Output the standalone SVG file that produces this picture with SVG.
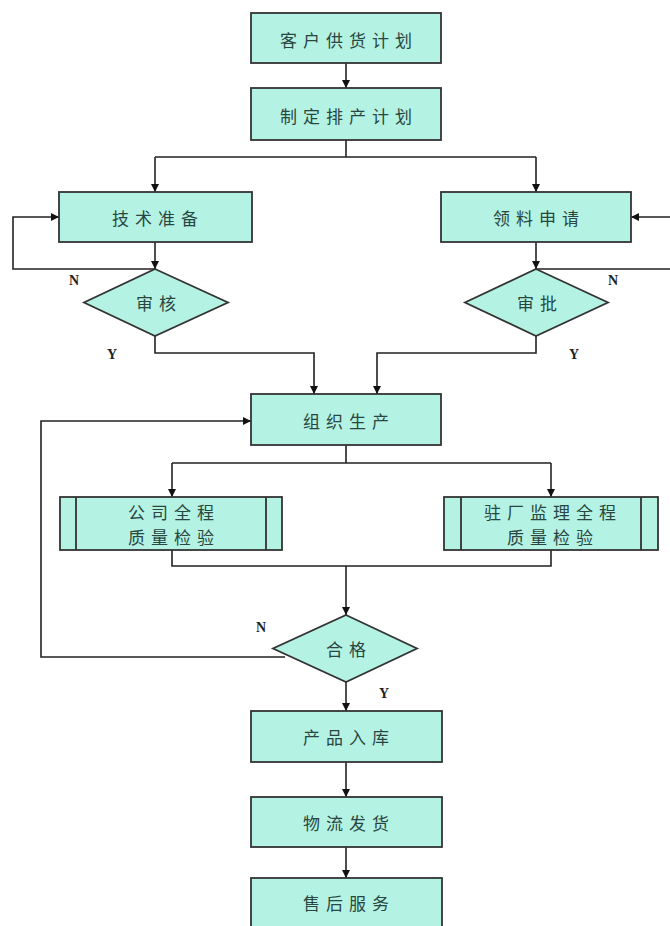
<svg xmlns="http://www.w3.org/2000/svg" width="670" height="926" viewBox="0 0 670 926">
<defs>
<style>
.box{fill:#b4f3e4;stroke:#333;stroke-width:1.8}
.bar{fill:none;stroke:#333;stroke-width:1.8}
.ln{fill:none;stroke:#222;stroke-width:1.6}
.t{font-family:"Noto Sans CJK SC","Noto Sans CJK TC",sans-serif;font-size:17px;fill:#2a4640;letter-spacing:6px;text-anchor:middle;dominant-baseline:central}
.yn{font-family:"Liberation Serif",serif;font-size:14px;font-weight:bold;fill:#222}
</style>
<marker id="ah" viewBox="0 0 10 10" refX="10" refY="5" markerWidth="8" markerHeight="8" markerUnits="userSpaceOnUse" orient="auto">
<path d="M0,0 L10,5 L0,10 z" fill="#111"/>
</marker>
</defs>
<rect width="670" height="926" fill="#fff"/>
<g id="connectors">
<path class="ln" d="M346,63 V88" marker-end="url(#ah)"/>
<path class="ln" d="M346,140 V157 M155,157 H536"/>
<path class="ln" d="M155,157 V192" marker-end="url(#ah)"/>
<path class="ln" d="M536,157 V192" marker-end="url(#ah)"/>
<path class="ln" d="M155,242 V269" marker-end="url(#ah)"/>
<path class="ln" d="M536,242 V269" marker-end="url(#ah)"/>
<path class="ln" d="M155,269 H13 V217 H59" marker-end="url(#ah)"/>
<path class="ln" d="M536,269 H672 V217 H631" marker-end="url(#ah)"/>
<path class="ln" d="M155,336 V353 H314 V394" marker-end="url(#ah)"/>
<path class="ln" d="M536,336 V353 H377 V394" marker-end="url(#ah)"/>
<path class="ln" d="M346,445 V463 M172,463 H551"/>
<path class="ln" d="M172,463 V497" marker-end="url(#ah)"/>
<path class="ln" d="M551,463 V497" marker-end="url(#ah)"/>
<path class="ln" d="M172,550 V566 H551 V550"/>
<path class="ln" d="M346,566 V615" marker-end="url(#ah)"/>
<path class="ln" d="M285,657 H41 V421 H251" marker-end="url(#ah)"/>
<path class="ln" d="M346,682 V711" marker-end="url(#ah)"/>
<path class="ln" d="M346,762 V797" marker-end="url(#ah)"/>
<path class="ln" d="M346,847 V878" marker-end="url(#ah)"/>
<text class="yn" x="69" y="285">N</text>
<text class="yn" x="107" y="359">Y</text>
<text class="yn" x="608" y="285">N</text>
<text class="yn" x="569" y="359">Y</text>
<text class="yn" x="256" y="632">N</text>
<text class="yn" x="379" y="698">Y</text>
</g>
<g id="n1"><rect class="box" x="251" y="13" width="190" height="50"/><text class="t" x="349" y="39">客户供货计划</text></g>
<g id="n2"><rect class="box" x="251" y="88" width="190" height="52"/><text class="t" x="349" y="115">制定排产计划</text></g>
<g id="n3"><rect class="box" x="59" y="192" width="193" height="50"/><text class="t" x="158" y="217">技术准备</text></g>
<g id="n4"><rect class="box" x="441" y="192" width="190" height="50"/><text class="t" x="539" y="217">领料申请</text></g>
<g id="n5"><path class="box" d="M155,269 L228,302.5 L155,336 L84,302.5 Z"/><text class="t" x="159" y="302">审核</text></g>
<g id="n6"><path class="box" d="M536,269 L608,302.5 L536,336 L465,302.5 Z"/><text class="t" x="540" y="302">审批</text></g>
<g id="n7"><rect class="box" x="251" y="394" width="190" height="51"/><text class="t" x="349" y="420">组织生产</text></g>
<g id="n8"><rect class="box" x="60" y="497" width="222" height="53"/><path class="bar" d="M76,497 V550 M266,497 V550"/><text class="t" x="174" y="511">公司全程</text><text class="t" x="174" y="536">质量检验</text></g>
<g id="n9"><rect class="box" x="444" y="497" width="214" height="53"/><path class="bar" d="M461,497 V550 M641,497 V550"/><text class="t" x="553" y="511">驻厂监理全程</text><text class="t" x="553" y="536">质量检验</text></g>
<g id="n10"><path class="box" d="M346,615 L417,648.5 L346,682 L273,648.5 Z"/><text class="t" x="349" y="648">合格</text></g>
<g id="n11"><rect class="box" x="251" y="711" width="191" height="51"/><text class="t" x="349" y="736">产品入库</text></g>
<g id="n12"><rect class="box" x="251" y="797" width="191" height="50"/><text class="t" x="349" y="822">物流发货</text></g>
<g id="n13"><rect class="box" x="251" y="878" width="191" height="60"/><text class="t" x="349" y="902">售后服务</text></g>
</svg>
